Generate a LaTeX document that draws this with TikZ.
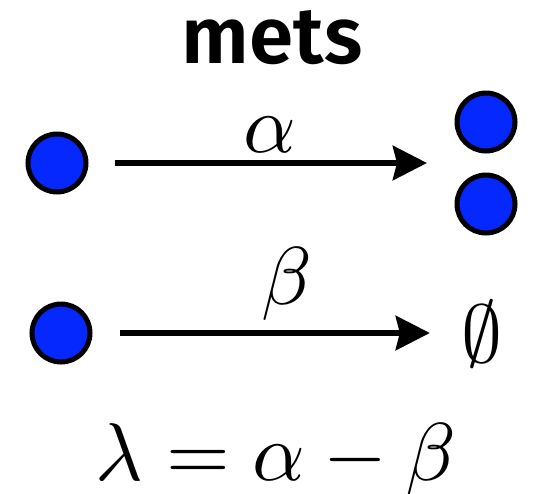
\documentclass[tikz,border=0pt]{standalone}
\usepackage{fontspec}
\setsansfont{Fira Sans}[BoldFont={* SemiBold}]
\usetikzlibrary{arrows.meta}
\definecolor{molblue}{RGB}{5,40,255}
\tikzset{
  mol/.style={circle,draw=black,fill=molblue,line width=5pt,inner sep=0pt,outer sep=0pt,minimum size=58pt},
  rx/.style={line width=6.5pt,-{Triangle[length=34pt,width=34pt,inset=4pt]}},
  big/.style={font=\fontsize{10}{10}\selectfont,scale=8.2,inner sep=0pt,anchor=base}
}
\begin{document}
\begin{tikzpicture}[x=1pt,y=-1pt]
\useasboundingbox (0,0) rectangle (534,493);
\node[anchor=base,inner sep=0pt,font=\sffamily\bfseries\fontsize{80}{80}\selectfont] (title) at (272,63) {mets};
% reaction alpha
\node[mol] (a1) at (57,163) {};
\node[mol] (p1) at (486,122) {};
\node[mol] (p2) at (486,204) {};
\coordinate (prod) at (486,163);
\draw[rx,shorten <=29pt,shorten >=59pt] (a1.east) -- (prod);
\node[big] (alab) at (270,152) {$\alpha$};
% reaction beta
\node[mol] (b1) at (61,333) {};
\node[big] (empty) at (482,362) {$\emptyset$};
\draw[rx,shorten <=30pt,shorten >=30pt] (b1.east) -- (b1.east -| empty.west);
\node[big] (blab) at (287,304) {$\beta$};
% equation
\node[big] (eq) at (276,480) {$\lambda = \alpha - \beta$};
\end{tikzpicture}
\end{document}
